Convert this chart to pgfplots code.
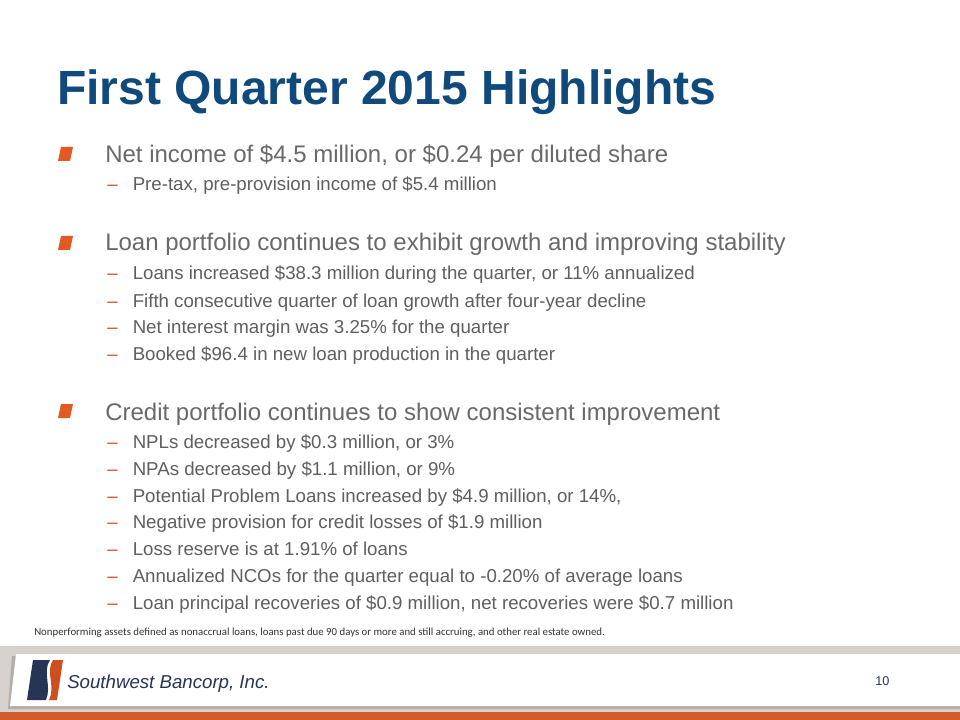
\documentclass[border=0pt]{standalone}
\usepackage{fontspec}
\setmainfont{Liberation Sans}
\newfontfamily\calfont{Carlito}
\usepackage{pgfplots}
\pgfplotsset{compat=1.18}
\definecolor{titleblue}{RGB}{16,74,125}
\definecolor{bodygray}{RGB}{105,105,105}
\definecolor{subgray}{RGB}{95,95,95}
\definecolor{bulletorange}{RGB}{228,88,36}
\definecolor{dashorange}{RGB}{214,78,42}
\definecolor{navy}{RGB}{38,52,86}
\definecolor{band}{RGB}{214,209,205}
\definecolor{shadowgray}{RGB}{180,172,166}
\definecolor{botorange}{RGB}{212,92,44}
\tikzset{mainline/.style={anchor=base west,inner sep=0,text=bodygray,font=\fontsize{18}{18}\selectfont},
  subline/.style={anchor=base west,inner sep=0,text=subgray,font=\fontsize{14}{14}\selectfont},
  dashmark/.style={anchor=base west,inner sep=0,text=dashorange,font=\fontsize{14}{14}\selectfont}}
\newcommand\sub[2]{\node[dashmark] at (axis cs:107,#1) {–};\node[subline] at (axis cs:132.5,#1) {#2};}
\begin{document}
\begin{tikzpicture}
\begin{axis}[width=720pt,height=540pt,scale only axis,
  xmin=0,xmax=960,ymin=0,ymax=720,y dir=reverse,
  axis lines=none,ticks=none,clip=false]
\fill[white] (axis cs:0,0) rectangle (axis cs:960,720);
\addplot[draw=none] coordinates {(0,0) (960,720)};
% title
\node[anchor=base west,inner sep=0,text=titleblue,font=\fontsize{36}{36}\selectfont\bfseries] at (axis cs:57,105) {First Quarter 2015 Highlights};
% bullets
\fill[bulletorange] (axis cs:61,147) -- (axis cs:73,147) -- (axis cs:70,161) -- (axis cs:58,161) -- cycle;
\fill[bulletorange] (axis cs:61,236) -- (axis cs:73,236) -- (axis cs:70,250) -- (axis cs:58,250) -- cycle;
\fill[bulletorange] (axis cs:61,404) -- (axis cs:73,404) -- (axis cs:70,418) -- (axis cs:58,418) -- cycle;
\node[mainline] at (axis cs:105,163) {Net income of \$4.5 million, or \$0.24 per diluted share};
\sub{191}{Pre-tax, pre-provision income of \$5.4 million}
\node[mainline] at (axis cs:105,251) {Loan portfolio continues to exhibit growth and improving stability};
\sub{280}{Loans increased \$38.3 million during the quarter, or 11\% annualized}
\sub{307}{Fifth consecutive quarter of loan growth after four-year decline}
\sub{333}{Net interest margin was 3.25\% for the quarter}
\sub{360}{Booked \$96.4 in new loan production in the quarter}
\node[mainline] at (axis cs:105,420) {Credit portfolio continues to show consistent improvement};
\sub{448}{NPLs decreased by \$0.3 million, or 3\%}
\sub{475}{NPAs decreased by \$1.1 million, or 9\%}
\sub{502}{Potential Problem Loans increased by \$4.9 million, or 14\%,}
\sub{528}{Negative provision for credit losses of \$1.9 million}
\sub{555}{Loss reserve is at 1.91\% of loans}
\sub{582}{Annualized NCOs for the quarter equal to -0.20\% of average loans}
\sub{609}{Loan principal recoveries of \$0.9 million, net recoveries were \$0.7 million}
% footnote
\node[anchor=base west,inner sep=0,text=black!80,font=\calfont\fontsize{8.1}{9}\selectfont] at (axis cs:34,635) {Nonperforming assets defined as nonaccrual loans, loans past due 90 days or more and still accruing, and other real estate owned.};
% footer band
\fill[band] (axis cs:0,646) rectangle (axis cs:960,712);
\fill[shadowgray] (axis cs:12,656) -- (axis cs:960,656) -- (axis cs:960,709) -- (axis cs:8,709) -- cycle;
\fill[white] (axis cs:16,654) -- (axis cs:960,654) -- (axis cs:960,706) -- (axis cs:10,706) -- cycle;
\fill[botorange] (axis cs:0,712) rectangle (axis cs:960,720);
% logo
\fill[navy] (axis cs:33,660) -- (axis cs:50,660) .. controls (axis cs:42,672) and (axis cs:52,686) .. (axis cs:46,700) -- (axis cs:27,700) -- cycle;
\fill[bulletorange!90!black] (axis cs:53,660) -- (axis cs:63,660) -- (axis cs:57,700) -- (axis cs:49,700) .. controls (axis cs:56,686) and (axis cs:45,672) .. (axis cs:53,660) -- cycle;
\node[anchor=base west,inner sep=0,text=navy,font=\fontsize{14}{14}\selectfont\itshape] at (axis cs:67,688) {Southwest Bancorp, Inc.};
\node[anchor=base west,inner sep=0,text=navy,font=\fontsize{9.5}{10}\selectfont] at (axis cs:875,685) {10};
\end{axis}
\end{tikzpicture}
\end{document}
